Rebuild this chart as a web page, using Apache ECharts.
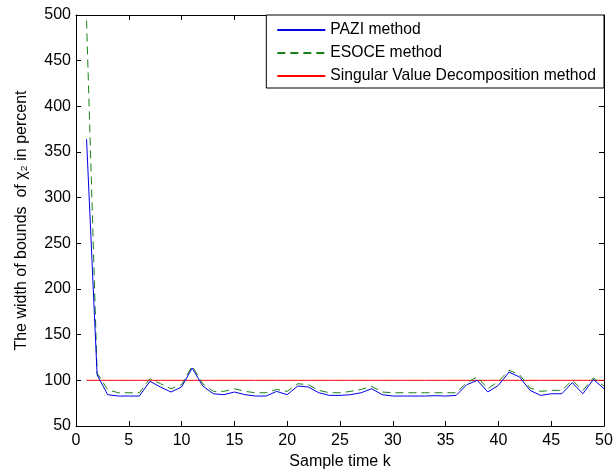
<!DOCTYPE html>
<html>
<head>
<meta charset="utf-8">
<script src="https://cdn.jsdelivr.net/npm/echarts@6/dist/echarts.min.js"></script>
<style>
html,body{margin:0;padding:0;background:#fff;}
#c{width:614px;height:472px;}
</style>
</head>
<body>
<div id="c"></div>
<script>
var sampleTimes = [1,2,3,4,5,6,7,8,9,10,11,12,13,14,15,16,17,18,19,20,21,22,23,24,25,26,27,28,29,30,31,32,33,34,35,36,37,38,39,40,41,42,43,44,45,46,47,48,49,50];
var paziValues = [364,106,84.3,82.8,82.8,82.8,98.9,92.7,87.2,92.7,113.5,93.8,85.3,84.3,87.2,84.3,82.8,82.8,87.9,84.3,93.8,92.7,86.4,83.5,83.5,84.3,86.4,90.8,84.3,82.8,82.8,82.8,82.8,83.2,82.8,83.5,95.2,100,87.2,94.5,109,103.7,89,83.5,85.3,85.3,97.4,85.3,101,90.8];
var esoceValues = [494,108,89.7,86.4,86.4,86.4,101.8,96.3,90.8,95.2,115.7,96.3,87.9,87.9,90.8,87.9,86.4,86.4,90,87.9,96.3,95.2,89,86.4,86.4,87.9,90,93.4,87.2,86.4,86.4,86.4,86.4,86.4,86.4,86.4,97.4,103.7,90.8,98.9,111,106.2,91.6,87.9,89,89,100,89,102.6,93.8];
var svdValues = [100,100,100,100,100,100,100,100,100,100,100,100,100,100,100,100,100,100,100,100,100,100,100,100,100,100,100,100,100,100,100,100,100,100,100,100,100,100,100,100,100,100,100,100,100,100,100,100,100,100];
var seriesNames = ['PAZI method','ESOCE method','Singular Value Decomposition method'];
var xTitle = 'Sample time k';
var yTitle = 'The width of bounds  of \u03c7\u2082 in percent';

function pairs(vals){ return sampleTimes.map(function(k,i){ return [k, vals[i]]; }); }

var font = 'Liberation Sans, Arial, sans-serif';
var fs = 16;
var axisCommon = {
  axisLine:{show:true, onZero:false, lineStyle:{color:'#000', width:1}},
  axisTick:{show:true, inside:true, length:5, lineStyle:{color:'#000', width:1}},
  splitLine:{show:false}
};
var chart = echarts.init(document.getElementById('c'), null, {renderer:'canvas'});
chart.setOption({
  animation:false,
  backgroundColor:'#fff',
  textStyle:{fontFamily:font},
  grid:{left:76, right:10, top:15, bottom:46, containLabel:false, outerBoundsMode:'none'},
  legend:{
    orient:'vertical', right:10, top:15,
    backgroundColor:'#fff', borderColor:'#000', borderWidth:1, borderRadius:0,
    padding:[7,8,4,10],
    itemWidth:48, itemHeight:14, itemGap:7,
    itemStyle:{opacity:0},
    textStyle:{color:'#000', fontSize:15.7, fontFamily:font, padding:[0,0,0,0]},
    data:seriesNames
  },
  xAxis:[
    Object.assign({type:'value', min:0, max:50, interval:5, position:'bottom',
      name:xTitle, nameLocation:'middle', nameGap:25,
      nameTextStyle:{color:'#000', fontSize:fs, fontFamily:font},
      axisLabel:{color:'#000', fontSize:fs, fontFamily:font, margin:7}}, axisCommon),
    Object.assign({type:'value', min:0, max:50, interval:5, position:'top',
      axisLabel:{show:false}}, axisCommon)
  ],
  yAxis:[
    Object.assign({type:'value', min:50, max:500, interval:50, position:'left',
      name:yTitle, nameLocation:'middle', nameGap:46, nameRotate:90,
      nameTextStyle:{color:'#000', fontSize:fs, fontFamily:font},
      axisLabel:{color:'#000', fontSize:fs, fontFamily:font, margin:5}}, axisCommon),
    Object.assign({type:'value', min:50, max:500, interval:50, position:'right',
      axisLabel:{show:false}}, axisCommon)
  ],
  series:[
    {name:seriesNames[0], type:'line', data:pairs(paziValues), symbol:'none', z:3,
      lineStyle:{color:'#0000e6', width:1}, itemStyle:{color:'#0000e6'}},
    {name:seriesNames[1], type:'line', data:pairs(esoceValues), symbol:'none', z:2,
      lineStyle:{color:'#1a801a', width:1, type:[8,5]}, itemStyle:{color:'#1a801a'}},
    {name:seriesNames[2], type:'line', data:pairs(svdValues), symbol:'none', z:1,
      lineStyle:{color:'#ff0000', width:1}, itemStyle:{color:'#ff0000'}}
  ]
});
</script>
</body>
</html>
